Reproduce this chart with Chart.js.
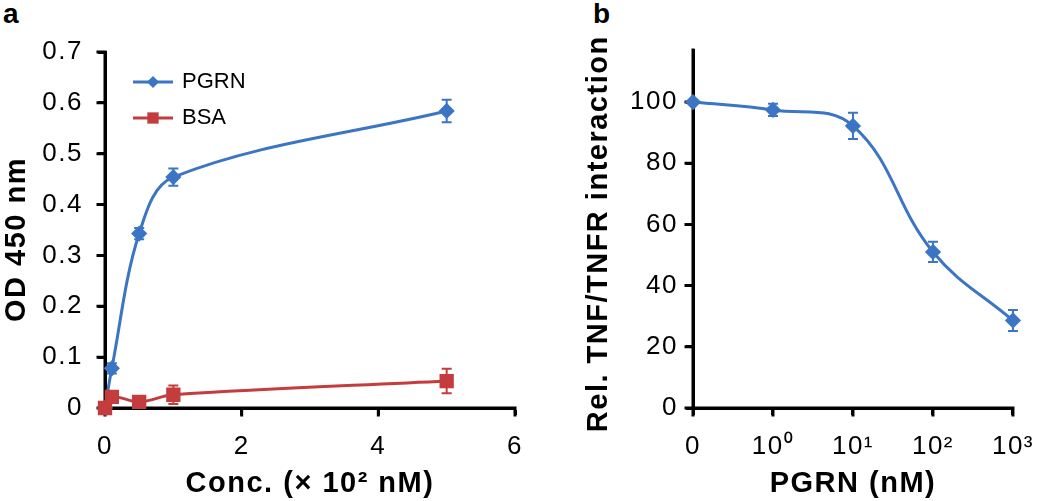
<!DOCTYPE html>
<html>
<head>
<meta charset="utf-8">
<title>PGRN binding and TNF/TNFR inhibition</title>
<script src="https://cdn.jsdelivr.net/npm/chart.js@4.4.1/dist/chart.umd.min.js"></script>
<style>
    body { margin: 0; background: #fff; }
    #wrap { position: relative; width: 1050px; height: 501px; overflow: hidden; }
    .panel { position: absolute; top: 0; height: 501px; }
    #panel-a { left: 0; width: 560px; }
    #panel-b { left: 560px; width: 490px; }
    .tag { position: absolute; top: 0; font: bold 28px "Liberation Sans", Arial, sans-serif; line-height: 28px; }
</style>
</head>
<body>
<div id="wrap">
    <div class="tag" style="left:3px">a</div>
    <div class="tag" style="left:593px">b</div>
    <div class="panel" id="panel-a"><canvas id="chart-a"></canvas></div>
    <div class="panel" id="panel-b"><canvas id="chart-b"></canvas></div>
</div>
<script>
// Panel a: binding ELISA (concentration in x 10^2 nM)
const concA = [0, 0.1, 0.5, 1, 5];
const pgrnA = [0, 0.078, 0.343, 0.454, 0.584];
const pgrnErrA = [0, 0.01, 0.011, 0.017, 0.022];
const bsaA = [0, 0.022, 0.012, 0.026, 0.053];
const bsaErrA = [0, 0.008, 0.006, 0.018, 0.024];
const ticksA = [0, 0.1, 0.2, 0.3, 0.4, 0.5, 0.6, 0.7];

// Panel b: TNF/TNFR interaction vs PGRN dose
const doseLabels = ['0', '10\u2070', '10\u00b9', '10\u00b2', '10\u00b3'];
const relB = [100, 97.4, 92.2, 51.0, 28.6];
const relErrB = [0, 2, 4.3, 3.3, 3.4];
const ticksB = [0, 20, 40, 60, 80, 100];

const BLUE = '#3b75c4';
const RED = '#c43c3d';
const FONT = '"Liberation Sans", Arial, "Noto Sans", sans-serif';

Chart.defaults.font.family = FONT;
Chart.defaults.color = '#000';

// Draw a legend marker the same way as the data points
function drawMarker(ctx, style, x, y, r, color) {
    ctx.fillStyle = color;
    ctx.beginPath();
    if (style === 'rectRot') {
        ctx.moveTo(x - r, y);
        ctx.lineTo(x, y - r);
        ctx.lineTo(x + r, y);
        ctx.lineTo(x, y + r);
        ctx.closePath();
    } else {
        const s = r * Math.SQRT1_2;
        ctx.rect(x - s, y - s, 2 * s, 2 * s);
    }
    ctx.fill();
}

// The original figure's lettering is a bit wider than Arial
const wideText = {
    id: 'wideText',
    beforeUpdate(chart) { chart.ctx.letterSpacing = '1.5px'; },
    beforeDraw(chart) { chart.ctx.letterSpacing = '1.5px'; }
};

// Solid black axis lines and outward tick marks, taken from the scales
const blackAxes = {
    id: 'blackAxes',
    beforeDatasetsDraw(chart) {
        const ctx = chart.ctx;
        const area = chart.chartArea;
        const xs = chart.scales.x;
        const ys = chart.scales.y;
        ctx.save();
        ctx.strokeStyle = '#000';
        ctx.lineCap = 'square';
        ctx.lineWidth = 3;
        ctx.beginPath();
        ctx.moveTo(area.left, area.top);
        ctx.lineTo(area.left, area.bottom);
        ctx.lineTo(area.right, area.bottom);
        xs.ticks.forEach(t => {
            const x = xs.getPixelForValue(t.value);
            ctx.moveTo(x, area.bottom);
            ctx.lineTo(x, area.bottom + 7);
        });
        ys.ticks.forEach(t => {
            const y = ys.getPixelForValue(t.value);
            ctx.moveTo(area.left, y);
            ctx.lineTo(area.left - 7, y);
        });
        ctx.stroke();
        ctx.restore();
    }
};

// Vertical error bars with caps, from each dataset's errors array
const errorBars = {
    id: 'errorBars',
    afterDatasetsDraw(chart) {
        const ctx = chart.ctx;
        const xs = chart.scales.x;
        const ys = chart.scales.y;
        chart.data.datasets.forEach(ds => {
            if (!ds.errors) return;
            ctx.save();
            ctx.strokeStyle = ds.borderColor;
            ctx.lineWidth = 2;
            ds.data.forEach((p, j) => {
                const e = ds.errors[j];
                if (!e) return;
                const x = xs.getPixelForValue(p.x);
                const top = ys.getPixelForValue(p.y + e);
                const bot = ys.getPixelForValue(p.y - e);
                ctx.beginPath();
                ctx.moveTo(x, top); ctx.lineTo(x, bot);
                ctx.moveTo(x - 5, top); ctx.lineTo(x + 5, top);
                ctx.moveTo(x - 5, bot); ctx.lineTo(x + 5, bot);
                ctx.stroke();
            });
            ctx.restore();
        });
    }
};

// Legend drawn inside the plot area (line + marker + label)
const insideLegend = {
    id: 'insideLegend',
    afterDatasetsDraw(chart, args, opts) {
        if (!opts || !opts.show) return;
        const area = chart.chartArea;
        const ctx = chart.ctx;
        chart.data.datasets.forEach((ds, i) => {
            const x0 = area.left + opts.left;
            const y = area.top + opts.top + i * opts.rowGap;
            ctx.save();
            ctx.letterSpacing = '0px';
            ctx.strokeStyle = ds.borderColor;
            ctx.lineWidth = 3;
            ctx.beginPath();
            ctx.moveTo(x0, y);
            ctx.lineTo(x0 + opts.lineLength, y);
            ctx.stroke();
            drawMarker(ctx, ds.pointStyle, x0 + opts.lineLength / 2, y, ds.pointRadius, ds.backgroundColor);
            ctx.fillStyle = '#000';
            ctx.font = '22px ' + FONT;
            ctx.textBaseline = 'middle';
            ctx.fillText(ds.label, x0 + opts.lineLength + opts.gap, y);
            ctx.restore();
        });
    }
};

function series(xs, ys) {
    return xs.map((x, i) => ({ x: x, y: ys[i] }));
}

// Shared axis look: thick black axes, outward ticks, no grid
function axis(extra) {
    return Object.assign({
        type: 'linear',
        border: { display: true, color: '#000', width: 3 },
        grid: { drawOnChartArea: false, tickLength: 7, tickColor: '#000', tickWidth: 3 },
    }, extra);
}

function titleFont() {
    return { size: 29, weight: 'bold', family: FONT };
}

// Panel a
new Chart(document.getElementById('chart-a'), {
    type: 'line',
    data: {
        datasets: [{
            label: 'PGRN',
            data: series(concA, pgrnA),
            errors: pgrnErrA,
            borderColor: BLUE,
            backgroundColor: BLUE,
            borderWidth: 3,
            pointStyle: 'rectRot',
            pointRadius: 6,
            tension: 0.35,
            order: 2,
            clip: false
        }, {
            label: 'BSA',
            data: series(concA, bsaA),
            errors: bsaErrA,
            borderColor: RED,
            backgroundColor: RED,
            borderWidth: 3,
            pointStyle: 'rect',
            pointRadius: 8,
            tension: 0.35,
            order: 1,
            clip: false
        }]
    },
    options: {
        responsive: true,
        maintainAspectRatio: false,
        animation: false,
        layout: { padding: { top: 52, right: 45, bottom: 0, left: 0 } },
        plugins: {
            legend: { display: false },
            tooltip: { enabled: false },
            insideLegend: { show: true, left: 28, top: 30, rowGap: 36, lineLength: 40, gap: 9 }
        },
        scales: {
            x: axis({
                min: 0, max: 6,
                ticks: { stepSize: 2, padding: 16, font: { size: 26 } },
                title: { display: true, text: 'Conc. (\u00d7 10\u00b2 nM)', font: titleFont(), padding: 0 },
                afterFit: s => { s.height = 93; }
            }),
            y: axis({
                min: 0, max: 0.7,
                ticks: { stepSize: 0.1, padding: 15, font: { size: 26 } },
                afterBuildTicks: s => { s.ticks = ticksA.map(v => ({ value: v })); },
                title: { display: true, text: 'OD 450 nm\u00a0\u00a0', font: titleFont(), padding: 0 },
                afterFit: s => { s.width = 105; }
            })
        }
    },
    plugins: [wideText, blackAxes, errorBars, insideLegend]
});

// Panel b
new Chart(document.getElementById('chart-b'), {
    type: 'line',
    data: {
        datasets: [{
            label: 'PGRN',
            data: series(doseLabels.map((l, i) => i), relB),
            errors: relErrB,
            borderColor: BLUE,
            backgroundColor: BLUE,
            borderWidth: 3,
            pointStyle: 'rectRot',
            pointRadius: 6,
            tension: 0.4,
            clip: false
        }]
    },
    options: {
        responsive: true,
        maintainAspectRatio: false,
        animation: false,
        layout: { padding: { top: 50, right: 25, bottom: 0, left: 0 } },
        plugins: {
            legend: { display: false },
            tooltip: { enabled: false }
        },
        scales: {
            x: axis({
                min: 0, max: doseLabels.length - 1,
                ticks: { stepSize: 1, padding: 16, font: { size: 26 }, callback: v => doseLabels[v] },
                title: { display: true, text: 'PGRN (nM)', font: titleFont(), padding: 0 },
                afterFit: s => { s.height = 93; }
            }),
            y: axis({
                min: 0, max: 117,
                ticks: { padding: 8, font: { size: 26 } },
                afterBuildTicks: s => { s.ticks = ticksB.map(v => ({ value: v })); },
                title: { display: true, text: 'Rel. TNF/TNFR interaction\u00a0', font: titleFont(), padding: { top: 22 } },
                afterFit: s => { s.width = 133; }
            })
        }
    },
    plugins: [wideText, blackAxes, errorBars]
});
</script>
</body>
</html>
